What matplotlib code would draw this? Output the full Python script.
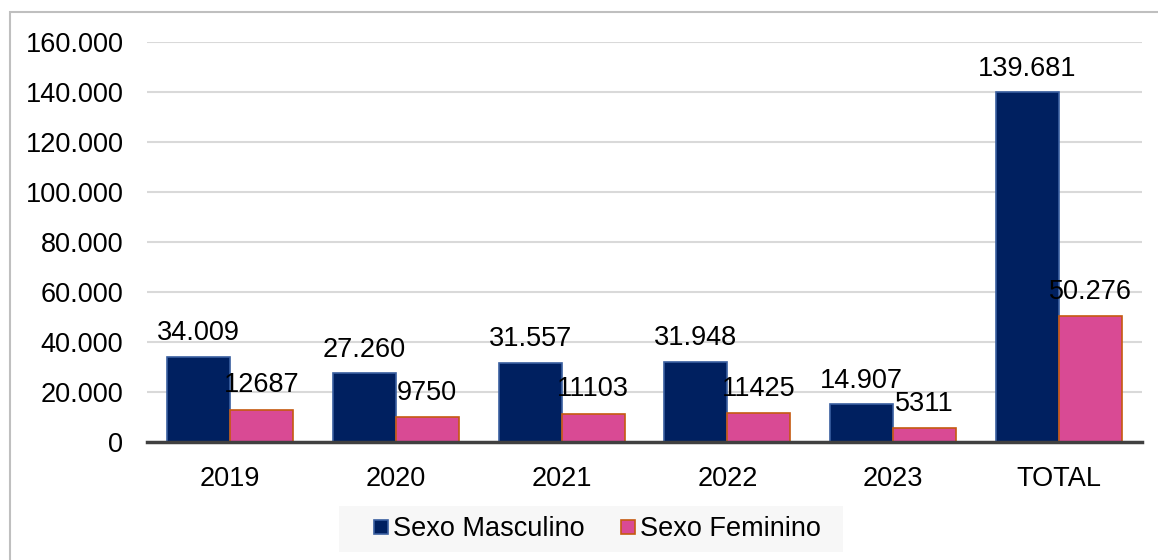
import matplotlib
matplotlib.use("Agg")
import matplotlib.pyplot as plt
from matplotlib.lines import Line2D
from matplotlib.patches import Rectangle
import numpy as np

categories = ['2019', '2020', '2021', '2022', '2023', 'TOTAL']
masculino = [34009, 27260, 31557, 31948, 14907, 139681]
feminino = [12687, 9750, 11103, 11425, 5311, 50276]
masc_labels = ['34.009', '27.260', '31.557', '31.948', '14.907', '139.681']
fem_labels = ['12687', '9750', '11103', '11425', '5311', '50.276']
yticks = [0, 20000, 40000, 60000, 80000, 100000, 120000, 140000, 160000]
series_names = ['Sexo Masculino', 'Sexo Feminino']

plt.rcParams['font.family'] = ['Liberation Sans', 'DejaVu Sans']
FS = 19.5

blue = '#002060'
blue_edge = '#3a5fa0'
pink = '#d94a94'
pink_edge = '#c55a11'

fig = plt.figure(figsize=(11.58, 5.60), dpi=100)
ax = fig.add_axes([147/1158, 1-441.5/560, (1142-147)/1158, (441.5-41.7)/560])

x = np.arange(len(categories))
w = 0.38
b1 = ax.bar(x - w/2, masculino, w, color=blue, edgecolor=blue_edge, linewidth=1.2, zorder=3)
b2 = ax.bar(x + w/2, feminino, w, color=pink, edgecolor=pink_edge, linewidth=1.2, zorder=3)

for rect, lab in zip(b1, masc_labels):
    ax.annotate(lab, (rect.get_x() + rect.get_width()/2, rect.get_height()),
                xytext=(0, 12), textcoords='offset points', ha='center', va='baseline',
                fontsize=FS, color='black', zorder=5)
for rect, lab in zip(b2, fem_labels):
    ax.annotate(lab, (rect.get_x() + rect.get_width()/2, rect.get_height()),
                xytext=(0, 12.5), textcoords='offset points', ha='center', va='baseline',
                fontsize=FS, color='black', zorder=5)

ax.set_xlim(-0.5, len(categories) - 0.5)
ax.set_ylim(0, 160000)
ax.set_yticks(yticks)
ax.set_yticklabels([f"{v:,}".replace(',', '.') for v in yticks], fontsize=FS)
ax.set_xticks(x)
ax.set_xticklabels(categories, fontsize=FS)
ax.tick_params(axis='both', length=0)
ax.tick_params(axis='y', pad=17)
ax.tick_params(axis='x', pad=18)
ax.yaxis.grid(True, color='#d9d9d9', linewidth=1.5, zorder=0)
ax.set_axisbelow(True)
for s in ['top', 'right', 'left']:
    ax.spines[s].set_visible(False)
ax.spines['bottom'].set_color('#404040')
ax.spines['bottom'].set_linewidth(2.5)
ax.spines['bottom'].set_zorder(4)

# legend background box
fig.patches.append(Rectangle((339/1158, 1-552/560), (843-339)/1158, 46/560,
                             transform=fig.transFigure, facecolor='#f7f7f7',
                             edgecolor='none', zorder=0))

handles = [
    Line2D([], [], linestyle='none', marker='s', markersize=10.5, markerfacecolor=blue,
           markeredgecolor=blue_edge, markeredgewidth=1.2),
    Line2D([], [], linestyle='none', marker='s', markersize=10.5, markerfacecolor=pink,
           markeredgecolor=pink_edge, markeredgewidth=1.2),
]
leg = fig.legend(handles, series_names, loc='center', bbox_to_anchor=(597/1158, 1-529/560),
                 ncol=2, fontsize=FS, frameon=False, handlelength=0.6, handletextpad=0.15,
                 columnspacing=1.3, borderpad=0.35)

fig.patches.append(Rectangle((10/1158, -0.1), 1.2, 1 - 12/560 + 0.1, transform=fig.transFigure,
                             fill=False, edgecolor='#bfbfbf', linewidth=1.5))

fig.savefig('out.png', dpi=100)
